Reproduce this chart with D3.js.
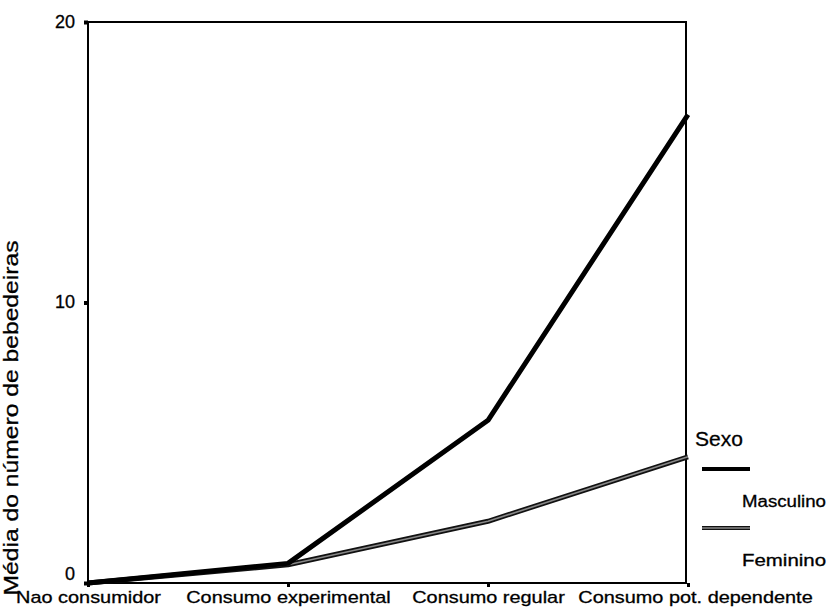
<!DOCTYPE html>
<html><head><meta charset="utf-8">
<script src="https://cdn.jsdelivr.net/npm/d3@7"></script>
<style>
html,body{margin:0;padding:0;background:#fff;}
svg text{font-family:"Liberation Sans",Arial,sans-serif;fill:#000;stroke:#000;stroke-width:0.3px;}
</style></head>
<body>
<svg id="c" width="833" height="609"></svg>
<script>
const categories = ["Nao consumidor","Consumo experimental","Consumo regular","Consumo pot. dependente"];
const masculino = [0, 0.7, 5.8, 16.7];
const feminino = [0, 0.65, 2.2, 4.5];
const yTicks = [0, 10, 20];
const seriesNames = ["Masculino","Feminino"];
const yTitle = "Média do número de bebedeiras";
const legendTitle = "Sexo";

const svg = d3.select("#c");
const mLeft = 88, mRight = 688, mTop = 22, mBottom = 583;
const x = d3.scalePoint().domain(categories).range([mLeft, mRight]).padding(0);
const y = d3.scaleLinear().domain([0, 20]).range([mBottom, mTop]);

// frame
svg.append("rect").attr("x", mLeft).attr("y", mTop).attr("width", mRight - 2 - mLeft).attr("height", mBottom - mTop)
  .attr("fill", "none").attr("stroke", "#000").attr("stroke-width", 2);

// y axis
const yAxis = d3.axisLeft(y).tickValues(yTicks).tickSize(4).tickPadding(9);
const gy = svg.append("g").attr("transform", `translate(${mLeft},0)`).call(yAxis);
gy.select(".domain").remove();
gy.selectAll(".tick line").attr("stroke", "#000").attr("stroke-width", 4);
gy.selectAll(".tick text").attr("font-size", 18).attr("dy", "0.35em")
  .attr("transform", d => d === 0 ? "translate(0,-10)" : "translate(0,-1)");

// x axis
const xAxis = d3.axisBottom(x).tickSize(4).tickPadding(4);
const gx = svg.append("g").attr("transform", `translate(0,${mBottom})`).call(xAxis);
gx.select(".domain").remove();
gx.selectAll(".tick line").attr("stroke", "#000").attr("stroke-width", 3);
gx.selectAll(".tick text").attr("font-size", 17).attr("dy", "0.71em")
  .attr("transform", (d, i) => (i === 3 ? "translate(7,0) " : "") + "scale(1.17,1)");

// lines
const line = d3.line().x((d, i) => x(categories[i])).y(d => y(d));
svg.append("path").datum(feminino).attr("d", line).attr("fill", "none")
  .attr("stroke", "#111").attr("stroke-width", 5).attr("stroke-linejoin", "round");
svg.append("path").datum(feminino).attr("d", line).attr("fill", "none")
  .attr("stroke", "#888").attr("stroke-width", 1.6).attr("stroke-linejoin", "round");
svg.append("path").datum(masculino).attr("d", line).attr("fill", "none")
  .attr("stroke", "#000").attr("stroke-width", 5).attr("stroke-linejoin", "round");

// y title
svg.append("text").attr("transform", "translate(18,418) rotate(-90)")
  .attr("text-anchor", "middle").attr("font-size", 20).attr("textLength", 355)
  .attr("lengthAdjust", "spacingAndGlyphs").text(yTitle);

// legend
const lg = svg.append("g");
lg.append("text").attr("x", 695).attr("y", 446).attr("font-size", 21).text(legendTitle);
const legY = [469, 528];
seriesNames.forEach((n, i) => {
  if (i === 0) {
    lg.append("line").attr("x1", 702).attr("x2", 750).attr("y1", legY[i]).attr("y2", legY[i])
      .attr("stroke", "#000").attr("stroke-width", 4);
  } else {
    lg.append("line").attr("x1", 702).attr("x2", 750).attr("y1", legY[i]).attr("y2", legY[i])
      .attr("stroke", "#111").attr("stroke-width", 4);
    lg.append("line").attr("x1", 702).attr("x2", 750).attr("y1", legY[i]).attr("y2", legY[i])
      .attr("stroke", "#888").attr("stroke-width", 1.4);
  }
  lg.append("text").attr("x", 742).attr("y", legY[i] + 38).attr("font-size", 16)
    .attr("textLength", 84).attr("lengthAdjust", "spacingAndGlyphs").text(n);
});
</script>
</body></html>
